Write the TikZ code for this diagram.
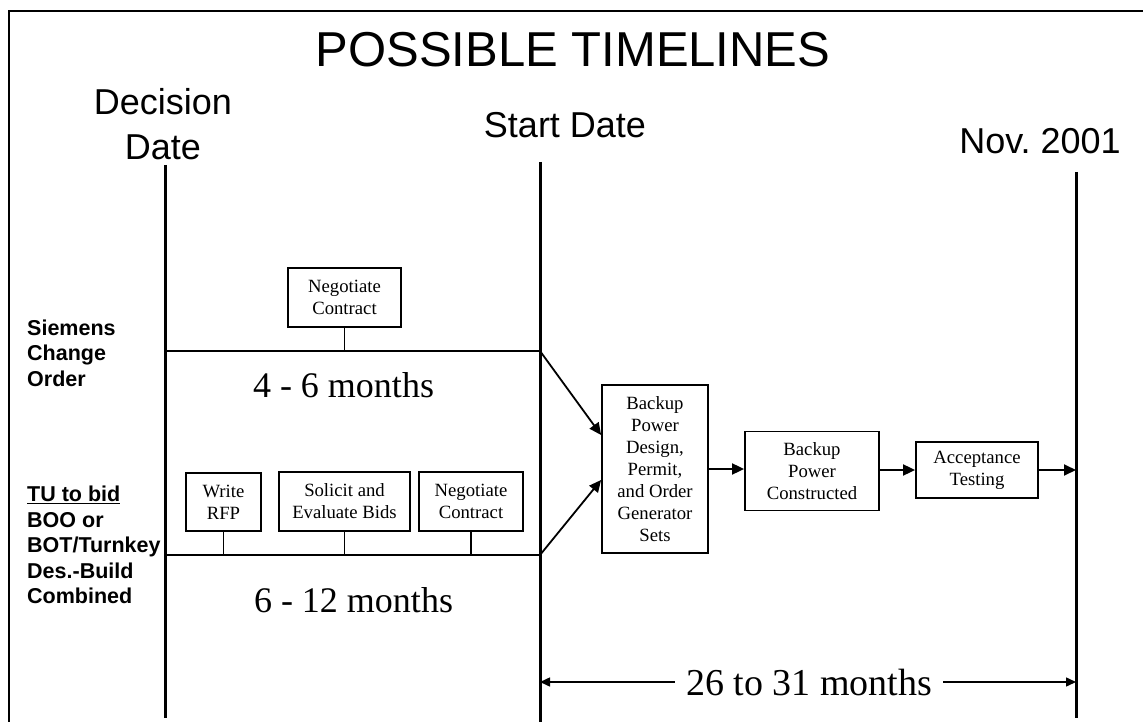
\documentclass[tikz,border=0pt]{standalone}
\usepackage{fontspec}
\setmainfont{Liberation Serif}
\newfontfamily\hvfont{Liberation Sans}
\usetikzlibrary{arrows.meta}
\begin{document}
\begin{tikzpicture}[x=1pt,y=-1pt,
  timeline/.style={line width=3pt},
  rail/.style={line width=2pt},
  stem/.style={line width=1.5pt},
  taskbox/.style={draw, line width=1.8pt, inner sep=0pt, align=center,
    font=\fontsize{18.7}{22}\selectfont},
  flow/.style={line width=1.8pt, -{Triangle[length=12pt,width=11pt]}},
  dimflow/.style={line width=1.5pt, -{Triangle[length=10pt,width=9pt]}},
  heading/.style={font=\hvfont\fontsize{36}{45}\selectfont, align=center, inner sep=0pt},
  rowlabel/.style={font=\hvfont\bfseries\fontsize{21.5}{25.5}\selectfont,
    align=left, anchor=west, inner sep=0pt},
  span/.style={font=\fontsize{36}{40}\selectfont, inner sep=0pt}
]
\useasboundingbox (0,0) rectangle (1143,722);

% frame
\draw[line width=2pt] (9,722) -- (9,11) -- (1143,11);

% title and milestone headings
\node[font=\hvfont\fontsize{49}{55}\selectfont, inner sep=0pt] (title) at (573,50) {POSSIBLE TIMELINES};
\node[heading] (hdec) at (163,124) {Decision\\Date};
\node[heading] (hstart) at (565,125) {Start Date};
\node[heading] (hnov) at (1040,141.5) {Nov.\ 2001};

% milestone lines
\coordinate (ddTop) at (165,165);  \coordinate (ddBot) at (165,718);
\coordinate (sdTop) at (540,162);  \coordinate (sdBot) at (540,722);
\coordinate (nvTop) at (1076,172); \coordinate (nvBot) at (1076,718);
\draw[timeline] (ddTop) -- (ddBot);
\draw[timeline] (sdTop) -- (sdBot);
\draw[timeline] (nvTop) -- (nvBot);

% row labels
\node[rowlabel] (lsiem) at (27,353) {Siemens\\Change\\Order};
\node[rowlabel] (ltu) at (27,545) {\underline{TU to bid}\\BOO or\\BOT/Turnkey\\Des.-Build\\Combined};

% option rails
\coordinate (sL) at (165,351); \coordinate (sR) at (540,351);
\coordinate (tL) at (165,555); \coordinate (tR) at (540,555);
\draw[rail] (sL) -- (sR);
\draw[rail] (tL) -- (tR);

% Siemens change order task
\node[taskbox, minimum width=113pt, minimum height=59pt] (nc1) at (344.5,297.5) {Negotiate\\Contract};
\draw[stem] (nc1.south) -- (nc1.south |- sR);
\node[span] (m46) at (343.5,385) {4 - 6 months};

% TU bid tasks
\node[taskbox, minimum width=75pt, minimum height=58pt] (rfp) at (223.5,502) {Write\\RFP};
\node[taskbox, minimum width=131pt, minimum height=59pt] (sol) at (344.5,501.5) {Solicit and\\Evaluate Bids};
\node[taskbox, minimum width=104pt, minimum height=59pt] (nc2) at (471,501.5) {Negotiate\\Contract};
\draw[stem] (rfp.south) -- (rfp.south |- tR);
\draw[stem] (sol.south) -- (sol.south |- tR);
\draw[stem] (nc2.south) -- (nc2.south |- tR);
\node[span] (m612) at (353.5,600) {6 - 12 months};

% construction sequence
\node[taskbox, minimum width=106pt, minimum height=168pt] (bpd) at (655,469)
  {Backup\\Power\\Design,\\Permit,\\and Order\\Generator\\Sets};
\node[taskbox, minimum width=134pt, minimum height=79pt] (bpc) at (812,471)
  {Backup\\Power\\Constructed};
\node[taskbox, minimum width=122pt, minimum height=56pt] (acc) at (977,470)
  {Acceptance\\Testing};

\draw[flow] (sR) -- ([yshift=34pt]bpd.west);
\draw[flow] (tR) -- ([yshift=-11pt]bpd.west);
\draw[flow] (bpd.east) -- (bpd.east -| bpc.west);
\draw[flow] (bpc.east |- acc.west) -- (acc.west);
\draw[flow] (acc.east) -- (acc.east -| nvTop);

% overall duration
\node[font=\fontsize{38}{42}\selectfont, inner xsep=11pt, inner ysep=0pt] (dur) at (809,682) {26 to 31 months};
\draw[dimflow] (dur.west) -- (dur.west -| sdTop);
\draw[dimflow] (dur.east) -- (dur.east -| nvTop);
\end{tikzpicture}
\end{document}
